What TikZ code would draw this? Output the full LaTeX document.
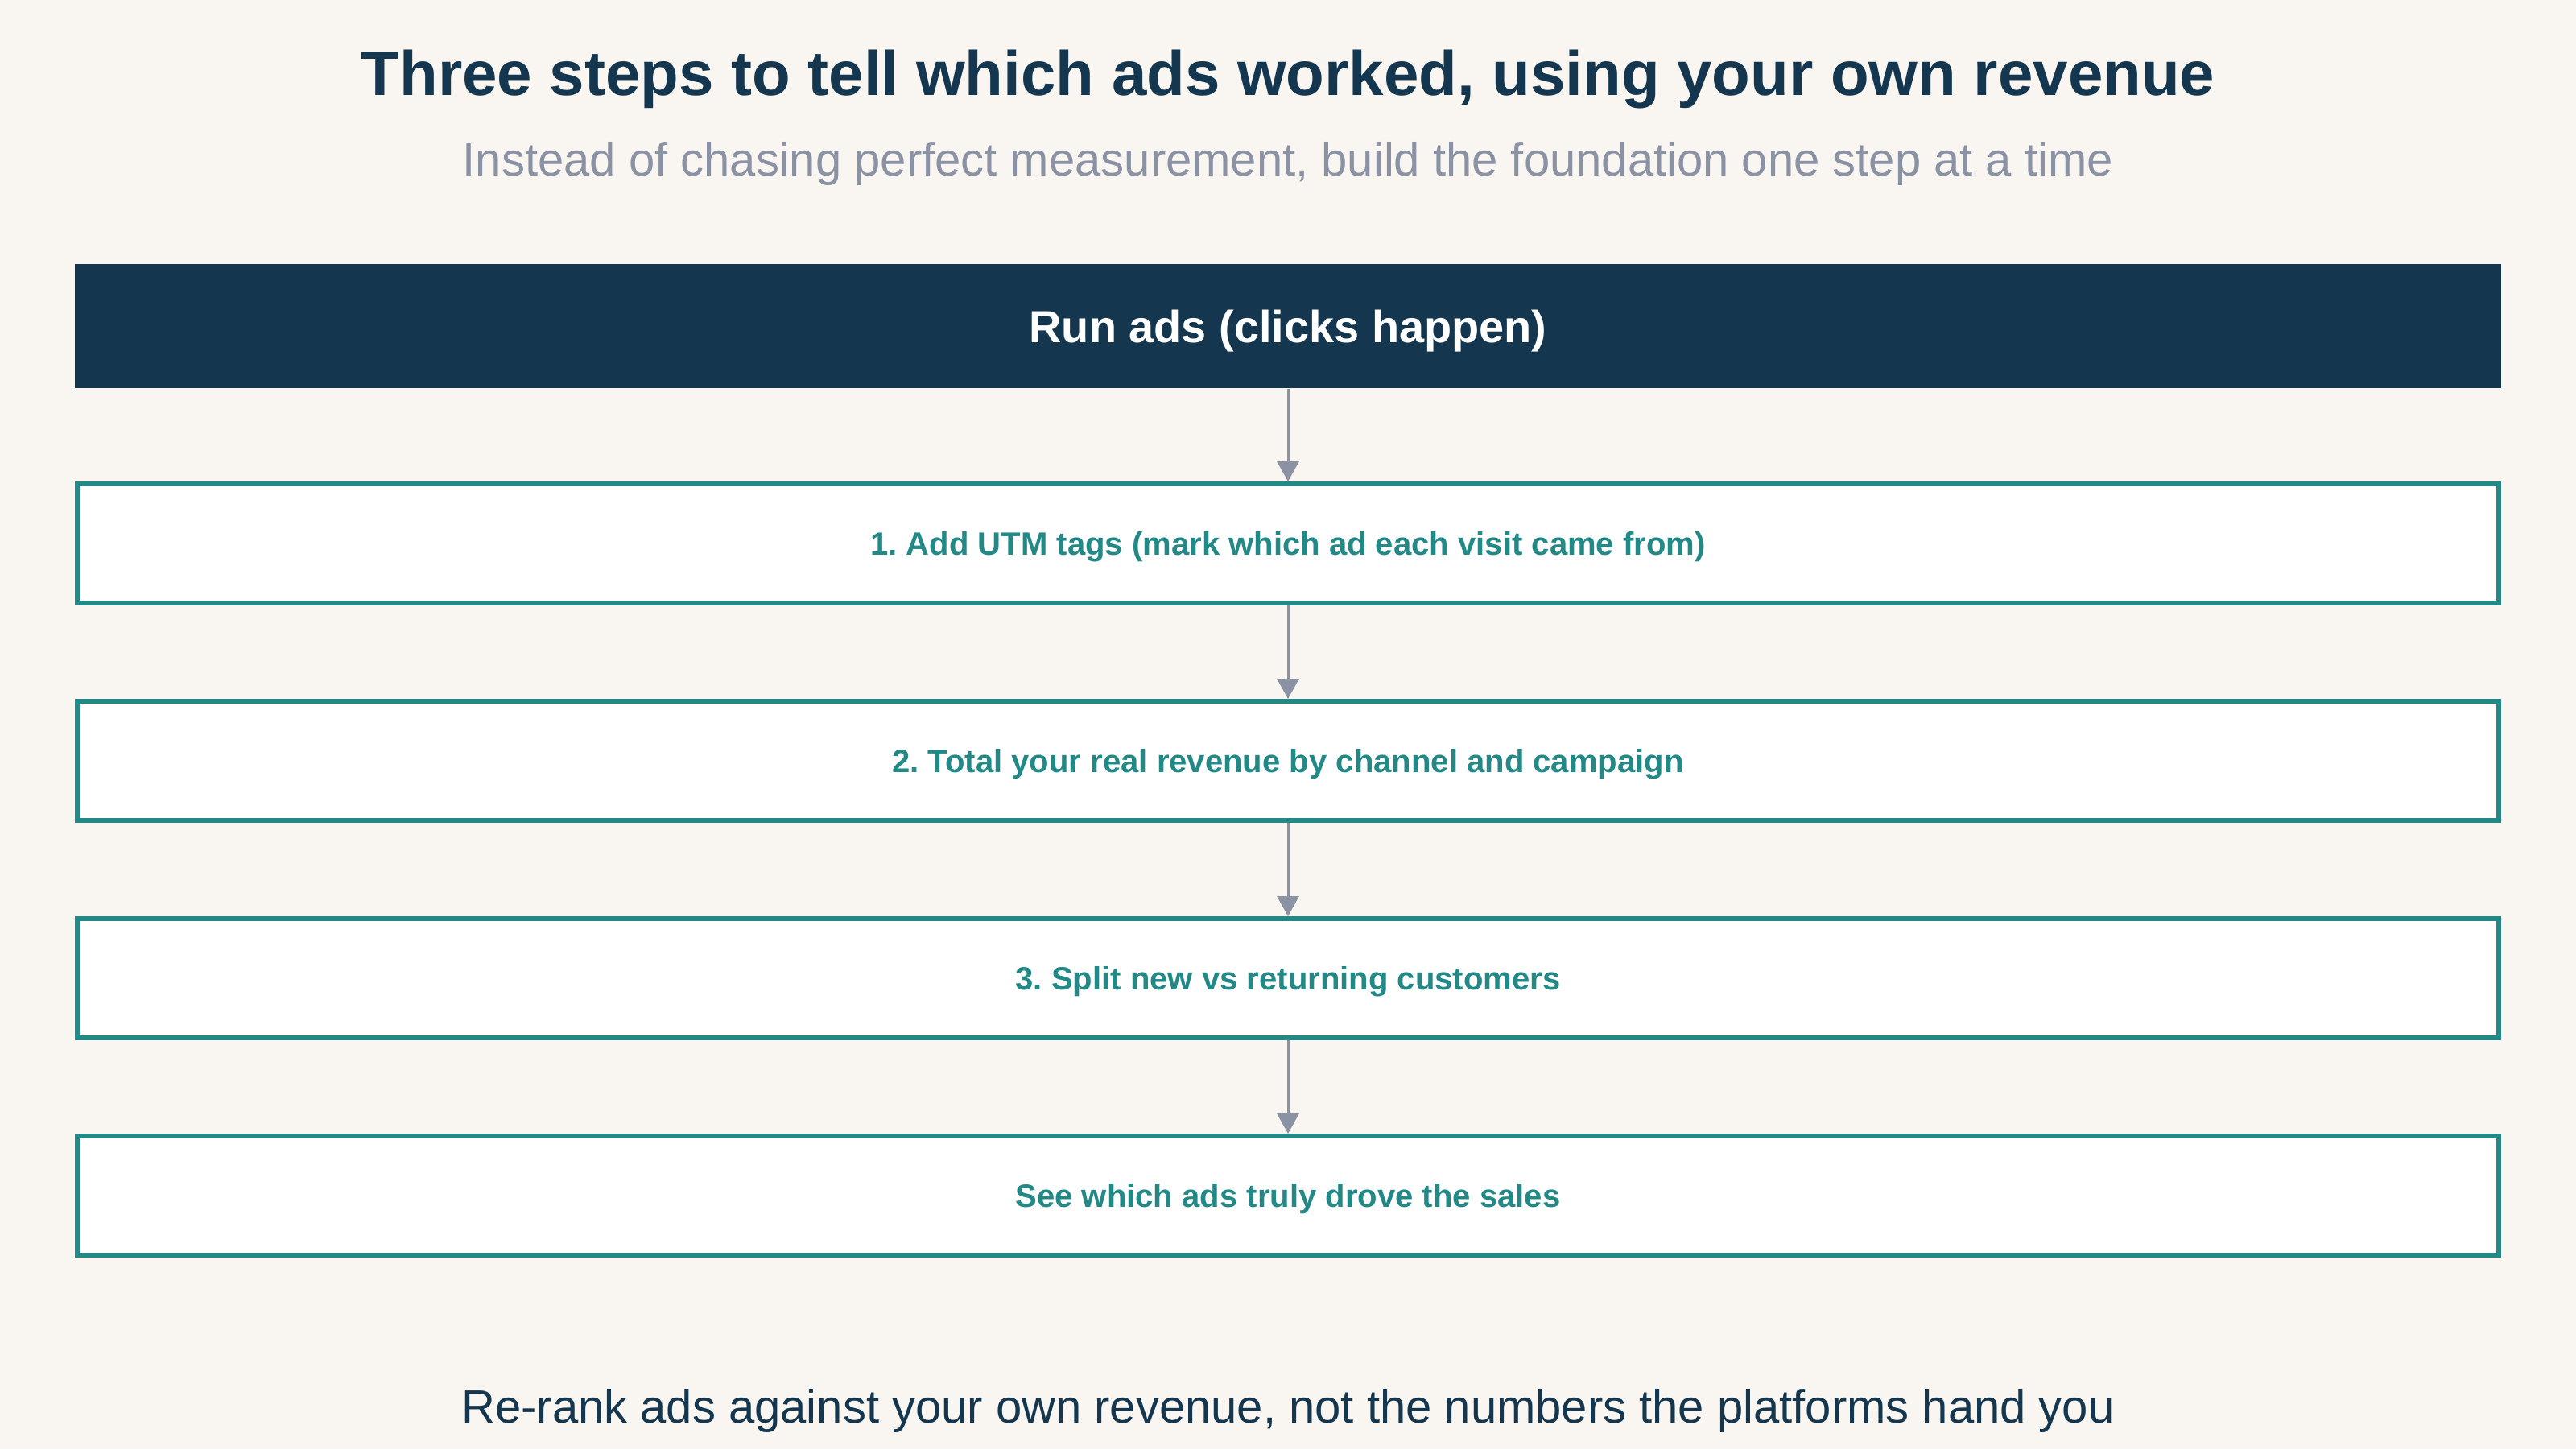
\documentclass[tikz,border=0pt]{standalone}
\usepackage{fontspec}
\setmainfont{Liberation Sans}
\usetikzlibrary{arrows.meta}
\definecolor{CN}{RGB}{20, 55, 79}
\definecolor{CT}{RGB}{35, 137, 135}
\definecolor{CG}{RGB}{138, 146, 163}
\definecolor{CB}{RGB}{249, 246, 242}
\frenchspacing

\begin{document}
\begin{tikzpicture}[
    stepbox/.style={draw=CT, line width=0.06cm, fill=white, minimum width=30.08cm,
      minimum height=1.48cm, inner sep=0pt, text=CT, text height=0.286cm, text depth=0pt,
      font=\fontsize{11.4}{13}\selectfont\bfseries},
    flow/.style={draw=CG, line width=0.03cm, -{Triangle[width=0.27cm, length=0.25cm]}}]
        \fill[CB] (0,0) rectangle (32,-18);
        \useasboundingbox (0,0) rectangle (32,-18);
        \node[anchor=base, text=CN, font=\fontsize{22.2}{26}\selectfont\bfseries] (title) at (16,-1.18)
            {Three steps to tell which ads worked, using your own revenue};
        \node[anchor=base, text=CG, font=\fontsize{16.5}{20}\selectfont] (subtitle) at (16,-2.18)
            {Instead of chasing perfect measurement, build the foundation one step at a time};
        \node[fill=CN, minimum width=30.14cm, minimum height=1.54cm, inner sep=0pt,
              text height=0.40cm, text depth=0pt,
              text=white, font=\fontsize{15.9}{19}\selectfont\bfseries] (run) at (16,-4.05) {Run ads (clicks happen)};
        \node[stepbox] (utm)     at (16,-6.75)  {1. Add UTM tags (mark which ad each visit came from)};
        \node[stepbox] (total)   at (16,-9.45)  {2. Total your real revenue by channel and campaign};
        \node[stepbox] (split)   at (16,-12.15) {3. Split new vs returning customers};
        \node[stepbox] (outcome) at (16,-14.85) {See which ads truly drove the sales};
        \draw[flow] (run) -- (utm);
        \draw[flow] (utm) -- (total);
        \draw[flow] (total) -- (split);
        \draw[flow] (split) -- (outcome);
        \node[anchor=base, text=CN, font=\fontsize{16.5}{20}\selectfont] (note) at (16,-17.67)
            {Re-rank ads against your own revenue, not the numbers the platforms hand you};
    \end{tikzpicture}
\end{document}
